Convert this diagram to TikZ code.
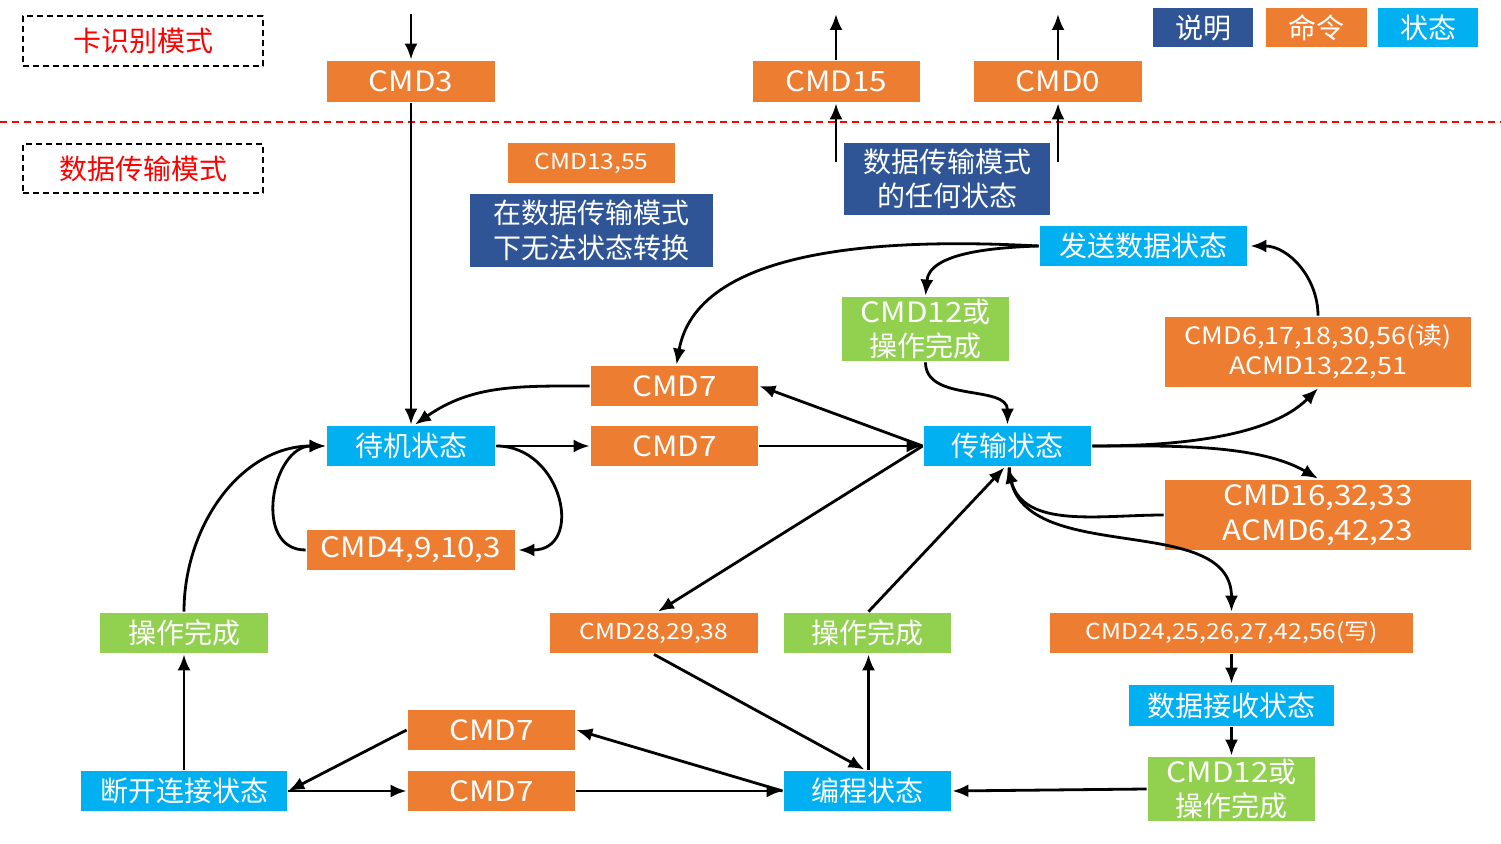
\documentclass[tikz,border=0pt]{standalone}
\usepackage{fontspec}
\setmainfont{Noto Sans CJK SC}
\newfontfamily\latn{Noto Sans CJK SC}[FakeStretch=1.12]
\usetikzlibrary{arrows.meta}
\definecolor{cmdorange}{HTML}{ED7D31}
\definecolor{statblue}{HTML}{00B0F0}
\definecolor{notenavy}{HTML}{2F5597}
\definecolor{okgreen}{HTML}{92D050}
\newcommand{\fs}[2]{\fontsize{#1}{#2}\selectfont}
\begin{document}
\begin{tikzpicture}[x=1pt,y=1pt,line join=round,line width=2.8pt,
	>={Latex[length=16pt,width=13pt]},
	sz/.style 2 args={minimum width=#1pt,minimum height=#2pt},
	box/.style={inner sep=0pt,text=white,align=center,font=\fs{28}{34}},
	cmd/.style={box,fill=cmdorange,font=\latn\fs{28}{34}},
	stat/.style={box,fill=statblue},
	note/.style={box,fill=notenavy},
	okay/.style={box,fill=okgreen},
	mode/.style={draw,line width=1.5pt,dash pattern=on 6pt off 4pt,text=red,inner sep=0pt,font=\fs{28}{34}}]
	\useasboundingbox (0,0) rectangle (1501,843);
	% modes
	\node[mode,sz={240}{50}] (ModeA) at (143,802) {卡识别模式};
	\node[mode,sz={240}{49}] (ModeB) at (143,674.5) {数据传输模式};
	\draw[red,line width=1.5pt,dash pattern=on 7pt off 5pt] (0,721) -- (1501,721);
	% legend
	\node[note,sz={100}{39}] (KeyA) at (1203,815.5) {说明};
	\node[cmd,sz={101}{39},font=\fs{28}{34}] (KeyB) at (1316.5,815.5) {命令};
	\node[stat,sz={100}{39}] (KeyC) at (1428,815.5) {状态};
	% card identification
	\node[cmd,sz={168}{41}] (CMDiii) at (411,761.5) {CMD3};
	\node[cmd,sz={167}{41}] (CMDxv) at (836,761.5) {CMD15};
	\node[cmd,sz={168}{41}] (CMDo) at (1058,761.5) {CMD0};
	\coordinate (TopIII) at (411,829);
	\coordinate (TopXV) at (836,829);
	\coordinate (TopO) at (1058,829);
	\coordinate (LowXV) at (836,681);
	\coordinate (LowO) at (1058,681);
	% notes
	\node[note,sz={206}{72}] (Any) at (947,664) {数据传输模式\\的任何状态};
	\node[cmd,sz={167}{40},font=\latn\fs{22}{28}] (CMDxiii) at (591.5,680) {CMD13,55};
	\node[note,sz={243}{73},font=\fs{28}{35}] (NoChg) at (591.5,612.5) {在数据传输模式\\下无法状态转换};
	% states
	\node[stat,sz={207}{40}] (Send) at (1143.5,597) {发送数据状态};
	\node[stat,sz={168}{40}] (Idle) at (411,397) {待机状态};
	\node[stat,sz={167}{40}] (Tran) at (1007.5,397) {传输状态};
	\node[stat,sz={205}{41}] (Recv) at (1231.5,137.5) {数据接收状态};
	\node[stat,sz={206}{40}] (Dis) at (184,52) {断开连接状态};
	\node[stat,sz={167}{40}] (Prog) at (867.5,52) {编程状态};
	% commands
	\node[cmd,sz={167}{40}] (SelA) at (674.5,457) {CMD7};
	\node[cmd,sz={167}{40}] (SelB) at (674.5,397) {CMD7};
	\node[cmd,sz={306}{70},font=\latn\fs{24}{30}] (Rd) at (1318,491) {CMD6,17,18,30,56(读)\\ACMD13,22,51};
	\node[cmd,sz={306}{70},font=\latn\fs{28}{35}] (Misc) at (1318,328) {CMD16,32,33\\ACMD6,42,23};
	\node[cmd,sz={208}{40}] (Stay) at (411,293) {CMD4,9,10,3};
	\node[cmd,sz={208}{40},font=\latn\fs{22}{28}] (Erase) at (654,210) {CMD28,29,38};
	\node[cmd,sz={363}{40},font=\latn\fs{22}{28}] (Wr) at (1231.5,210) {CMD24,25,26,27,42,56(写)};
	\node[cmd,sz={167}{40}] (SelC) at (491.5,113) {CMD7};
	\node[cmd,sz={167}{40}] (SelD) at (491.5,52) {CMD7};
	% done
	\node[okay,sz={167}{64}] (StopA) at (925.5,514) {{\latn CMD12}或\\操作完成};
	\node[okay,sz={168}{40}] (DoneL) at (184,210) {操作完成};
	\node[okay,sz={167}{40}] (DoneM) at (867.5,210) {操作完成};
	\node[okay,sz={167}{64}] (StopB) at (1231.5,54) {{\latn CMD12}或\\操作完成};
	% connectors
	\draw[->] (TopIII) -- (CMDiii.north);
	\draw[->] (CMDiii.south) -- (Idle.north);
	\draw[->] (CMDxv.north) -- (TopXV);
	\draw[->] (CMDo.north) -- (TopO);
	\draw[->] (LowXV) -- (CMDxv.south);
	\draw[->] (LowO) -- (CMDo.south);
	\draw[->] (SelA.west) to[out=180,in=35] ([xshift=4pt]Idle.north);
	\draw[->] (Send.west) to[out=177,in=80,looseness=0.85] ([xshift=2pt]SelA.north);
	\draw[->] (Send.west) to[out=182,in=85,looseness=0.9] (StopA.north);
	\draw[->] (StopA.south) to[out=-90,in=90] (Tran.north);
	\draw[->] (Tran.west) -- (SelA.east);
	\draw[->] (Idle.east) -- (SelB.west);
	\draw[->] (SelB.east) -- (Tran.west);
	\draw[->] (Idle.east) to[out=0,in=0,looseness=1.6] ([xshift=2pt]Stay.east);
	\draw[->] (Stay.west) to[out=180,in=180,looseness=1.3] (Idle.west);
	\draw[->] (DoneL.north) to[out=90,in=180] (Idle.west);
	\draw[->] (Tran.east) to[out=0,in=-135,looseness=0.8] (Rd.south);
	\draw[->] (Rd.north) to[out=90,in=0] ([xshift=2pt]Send.east);
	\draw[->] (Tran.east) to[out=0,in=150,looseness=0.8] (Misc.north);
	\draw[->] (Misc.west) to[out=180,in=-75] (Tran.south);
	\draw[->] ([xshift=2pt]Tran.south) to[out=-90,in=90] (Wr.north);
	\draw[->] (Tran.west) -- ([xshift=4pt]Erase.north);
	\draw[->] (Erase.south) -- ([xshift=-3pt]Prog.north);
	\draw[->] ([xshift=1pt]Prog.north) -- ([xshift=1pt]DoneM.south);
	\draw[->] ([xshift=1pt]DoneM.north) -- ([xshift=-3pt]Tran.south);
	\draw[->] (Wr.south) -- (Recv.north);
	\draw[->] (Recv.south) -- (StopB.north);
	\draw[->] (StopB.west) -- (Prog.east);
	\draw[->] (Prog.west) -- (SelC.east);
	\draw[->] (SelC.west) -- (Dis.east);
	\draw[->] (Dis.east) -- (SelD.west);
	\draw[->] (SelD.east) -- (Prog.west);
	\draw[->] (Dis.north) -- (DoneL.south);
\end{tikzpicture}
\end{document}
